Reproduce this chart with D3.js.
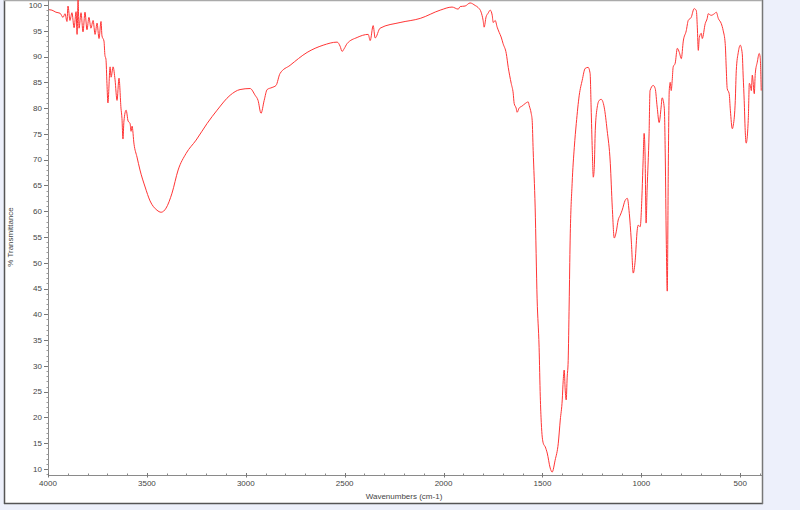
<!DOCTYPE html>
<html><head><meta charset="utf-8">
<script src="https://cdn.jsdelivr.net/npm/d3@7"></script>
<style>
html,body{margin:0;padding:0;background:#edf0fb;}
svg{display:block;}
text{font-family:"Liberation Sans",Arial,sans-serif;}
</style></head>
<body>
<svg id="c" width="800" height="510"></svg>
<script>
// Wavenumbers (cm-1) and % transmittance
const wavenumbers = [4000,3980,3960,3939,3924,3914,3904,3899,3889,3879,3868,3858,3853,3848,3843,3833,3823,3813,3803,3793,3783,3772,3762,3752,3742,3732,3727,3717,3712,3707,3702,3697,3686,3681,3671,3661,3651,3641,3631,3626,3621,3616,3605,3595,3585,3580,3575,3565,3550,3535,3509,3484,3449,3428,3403,3373,3342,3302,3251,3196,3145,3079,3029,2978,2953,2938,2923,2907,2892,2867,2847,2827,2776,2690,2609,2538,2523,2513,2503,2488,2437,2381,2371,2356,2346,2321,2220,2118,2017,1957,1926,1916,1891,1866,1840,1825,1810,1800,1795,1785,1775,1764,1754,1749,1739,1729,1719,1709,1699,1683,1673,1658,1648,1643,1633,1628,1618,1603,1587,1572,1567,1557,1552,1547,1537,1527,1517,1511,1506,1496,1486,1476,1461,1451,1436,1420,1410,1400,1395,1390,1385,1380,1375,1370,1365,1360,1350,1339,1329,1314,1299,1284,1269,1259,1254,1248,1243,1238,1233,1223,1213,1203,1188,1173,1157,1147,1137,1127,1117,1107,1097,1082,1071,1061,1051,1041,1031,1021,1016,1006,996,991,986,981,976,971,961,956,940,930,920,910,900,895,884,879,874,869,864,859,854,849,844,839,829,818,808,798,788,773,763,748,733,722,717,712,707,697,692,677,667,662,647,631,621,611,596,586,576,571,566,556,550,540,535,525,520,510,500,490,485,480,475,470,459,454,449,444,439,429,424,414,404,399,394];
const transmittance = [99.1,99.0,98.6,98.4,97.6,98.3,96.8,99.8,97.0,98.5,95.6,98.7,94.3,101,95.5,98.5,94.8,98.6,95.2,97.6,95.5,97.0,94.3,96.5,93.5,96.8,94.0,93.0,90.2,89.5,84.8,81.0,88.0,86.0,88.0,85.5,81.5,85.8,80.0,78.0,74.0,77.5,79.6,77.5,77.0,75.5,76.5,73.0,70.5,68.0,64.7,62.0,60.2,59.8,60.6,63.5,68.0,71.2,73.8,77.0,79.6,82.5,83.6,83.8,82.5,81.5,79.0,81.5,83.6,84.0,84.4,86.7,88.3,90.8,92.2,92.8,92.0,91.0,91.5,92.5,93.7,94.3,93.1,96.0,93.6,95.5,96.6,97.4,99.0,99.6,99.2,99.7,99.8,100.4,99.9,99.5,98.6,97.0,95.7,97.7,98.4,99.0,98.0,96.6,97.0,95.7,94.7,93.8,92.5,90.6,87.9,84.8,82.9,80.9,80.0,79.2,80.0,80.4,80.9,81.2,80.5,79.0,77.6,71.8,60.8,43,33.6,24,19,15,14.3,13.1,10.2,9.4,11.7,15,19.5,23.4,27.2,29.2,25.3,23.4,27.8,31,42,54.4,65.4,72.4,77,82.5,85.4,87.7,87.9,86.7,80.2,71.8,66.6,68.5,75.7,80.2,81.5,81.7,80.2,75.7,69.3,60.8,54.8,56,58.3,59.2,60.2,62.1,62.5,59.6,54.4,48,50.5,56.3,57.3,57,64,69.9,75.1,70.5,57.7,64,75,83.4,84.4,83.8,80.2,77.2,80.2,82,80,70.5,54.4,44.5,67.4,83.4,85,83.4,85.4,88,88.7,91.6,90.8,89.6,93,95,97,97.6,99.3,98.9,95.7,91.2,93.7,94.5,93.5,96.4,97.4,98.3,98,98.3,98.6,97.4,96.4,95,92.5,88,83.8,82.8,79.6,76,76.7,81.5,87.3,90.8,92.2,90.6,86,81.5,75.7,73.2,78.2,84.8,84.4,83.4,86.4,82.8,86.7,88.9,90.6,89.8,83.4];
const xMajorTicks = [4000,3500,3000,2500,2000,1500,1000,500];
const yMajorTicks = [10,15,20,25,30,35,40,45,50,55,60,65,70,75,80,85,90,95,100];
const xLabel = "Wavenumbers (cm-1)";
const yLabel = "% Transmittance";

const svg = d3.select("#c");
const L = 48, R = 762, T = 0, B = 475;
const x = d3.scaleLinear().domain([4000, 390]).range([L, R]);
const y = d3.scaleLinear().domain([10, 100]).range([469, 5]);

// panel
svg.append("rect").attr("x",4).attr("y",0).attr("width",R-4).attr("height",504).attr("fill","#fff");
svg.append("line").attr("x1",4.5).attr("x2",4.5).attr("y1",0).attr("y2",504).attr("stroke","#555").attr("stroke-width",1.5);
svg.append("line").attr("x1",4).attr("x2",R+1).attr("y1",503.5).attr("y2",503.5).attr("stroke","#555").attr("stroke-width",1.5);
svg.append("line").attr("x1",R+0.5).attr("x2",R+0.5).attr("y1",0).attr("y2",504).attr("stroke","#777").attr("stroke-width",1.5);
svg.append("line").attr("x1",4).attr("x2",R).attr("y1",0.5).attr("y2",0.5).attr("stroke","#aaa").attr("stroke-width",1.5);

const axCol = "#8a8a8a";
// y axis
const gy = svg.append("g");
gy.append("line").attr("x1",L+0.5).attr("x2",L+0.5).attr("y1",T).attr("y2",B).attr("stroke",axCol);
const yMinor = d3.range(9, 101, 1);
gy.selectAll(".ym").data(yMinor).join("line")
  .attr("x1",L-1.5).attr("x2",L+0.5).attr("y1",d=>Math.round(y(d))+0.5).attr("y2",d=>Math.round(y(d))+0.5).attr("stroke","#999");
gy.selectAll(".yM").data(yMajorTicks).join("line")
  .attr("x1",L-4).attr("x2",L).attr("y1",d=>Math.round(y(d))+0.5).attr("y2",d=>Math.round(y(d))+0.5).attr("stroke","#777");
gy.selectAll("text").data(yMajorTicks).join("text")
  .attr("x",L-6).attr("y",d=>y(d)).attr("dy","0.35em").attr("text-anchor","end")
  .attr("font-size",8).attr("fill","#444").text(d=>d);

// x axis
const gx = svg.append("g");
gx.append("line").attr("x1",L).attr("x2",R).attr("y1",B+0.5).attr("y2",B+0.5).attr("stroke",axCol);
const xMinor = d3.range(4000, 390, -100);
gx.selectAll(".xm").data(xMinor).join("line")
  .attr("x1",d=>Math.round(x(d))+0.5).attr("x2",d=>Math.round(x(d))+0.5).attr("y1",B-1.5).attr("y2",B+0.5).attr("stroke","#888");
gx.selectAll(".xM").data(xMajorTicks).join("line")
  .attr("x1",d=>Math.round(x(d))+0.5).attr("x2",d=>Math.round(x(d))+0.5).attr("y1",B-2).attr("y2",B+2.5).attr("stroke","#777");
gx.selectAll("text").data(xMajorTicks).join("text")
  .attr("x",d=>x(d)).attr("y",B+11).attr("text-anchor","middle")
  .attr("font-size",8).attr("fill","#444").text(d=>d);

svg.append("text").attr("x",404).attr("y",499).attr("text-anchor","middle").attr("font-size",8).attr("fill","#444").text(xLabel);
svg.append("text").attr("transform","translate(13,237) rotate(-90)").attr("text-anchor","middle").attr("font-size",8).attr("fill","#444").text(yLabel);

// clip + curve
svg.append("clipPath").attr("id","clip").append("rect").attr("x",L+1).attr("y",T).attr("width",R-L-1).attr("height",B-T);
const data = wavenumbers.map((w,i)=>[w, transmittance[i]]);
svg.append("path").datum(data).attr("clip-path","url(#clip)")
  .attr("fill","none").attr("stroke","#ff3535").attr("stroke-width",1).attr("stroke-linejoin","round")
  .attr("d", d3.line().x(d=>x(d[0])).y(d=>y(d[1])).curve(d3.curveMonotoneX));
</script>
</body></html>
